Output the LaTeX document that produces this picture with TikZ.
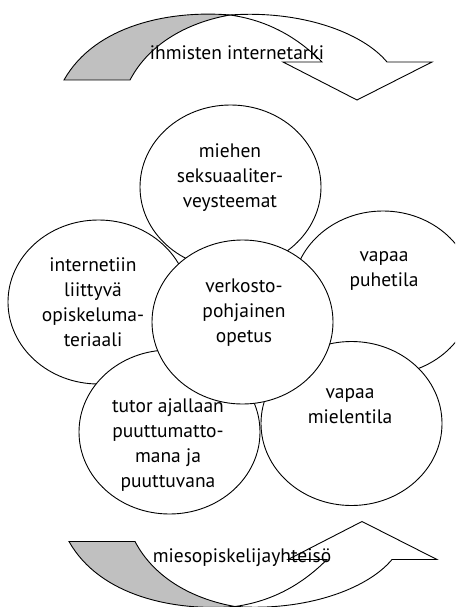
\documentclass[tikz,border=0pt]{standalone}
\usepackage{fontspec}
\setmainfont{PT Sans}
\usetikzlibrary{shapes.geometric}
\definecolor{shade}{HTML}{C0C0C0}
\begin{document}
\begin{tikzpicture}[x=1pt,y=-1pt,
  bubble/.style={ellipse,draw=black,fill=white,line width=0.9pt,inner sep=0pt,minimum width=181pt,minimum height=164pt},
  lbl/.style={align=center,inner sep=0pt,font=\fontsize{19.5}{25}\selectfont,text=black},
  band/.style={draw=black,line width=0.9pt,line join=miter}]
\useasboundingbox (0,0) rectangle (455,607);
\clip (0,0) rectangle (455,607);
% top curved arrow
\begin{scope}
\filldraw[band,fill=shade] (64,80) .. controls (95,25) and (170,10) .. (230,15)
  .. controls (190,22) and (150,42) .. (130,80) -- cycle;
\filldraw[band,fill=white] (230,15) .. controls (300,10) and (362,32) .. (387,62)
  -- (432,62) -- (357,100) -- (283,62) -- (322,62)
  .. controls (295,35) and (265,20) .. (230,15) -- cycle;
\end{scope}
% bottom curved arrow
\begin{scope}[shift={(5,621.5)},yscale=-1]
\filldraw[band,fill=shade] (64,80) .. controls (95,25) and (170,10) .. (230,15)
  .. controls (190,22) and (150,42) .. (130,80) -- cycle;
\filldraw[band,fill=white] (230,15) .. controls (300,10) and (362,32) .. (387,62)
  -- (432,62) -- (357,100) -- (283,62) -- (322,62)
  .. controls (295,35) and (265,20) .. (230,15) -- cycle;
\end{scope}
% bubbles
\node[bubble] (ctop) at (230.5,187) {};
\node[bubble] (cleft) at (98.5,302) {};
\node[bubble] (cright) at (383,293) {};
\node[bubble] (ctutor) at (169.5,432) {};
\node[bubble] (cmind) at (351.5,423.5) {};
\node[bubble] (ccenter) at (242.5,322) {};
% texts
\node[lbl] (ttop) at (230,178) {miehen\\seksuaaliter-\\veysteemat};
\node[lbl] (tleft) at (93,302) {internetiin\\liittyvä\\opiskeluma-\\teriaali};
\node[lbl] (tright) at (384,271) {vapaa\\puhetila};
\node[lbl] (tcenter) at (244,312.5) {verkosto-\\pohjainen\\opetus};
\node[lbl] (ttutor) at (168,445) {tutor ajallaan\\puuttumatto-\\mana ja\\puuttuvana};
\node[lbl] (tmind) at (350,406.5) {vapaa\\mielentila};
\node[lbl] (tarrowtop) at (237,53) {ihmisten internetarki};
\node[lbl] (tarrowbot) at (242,558) {miesopiskelijayhteisö};
\end{tikzpicture}
\end{document}
